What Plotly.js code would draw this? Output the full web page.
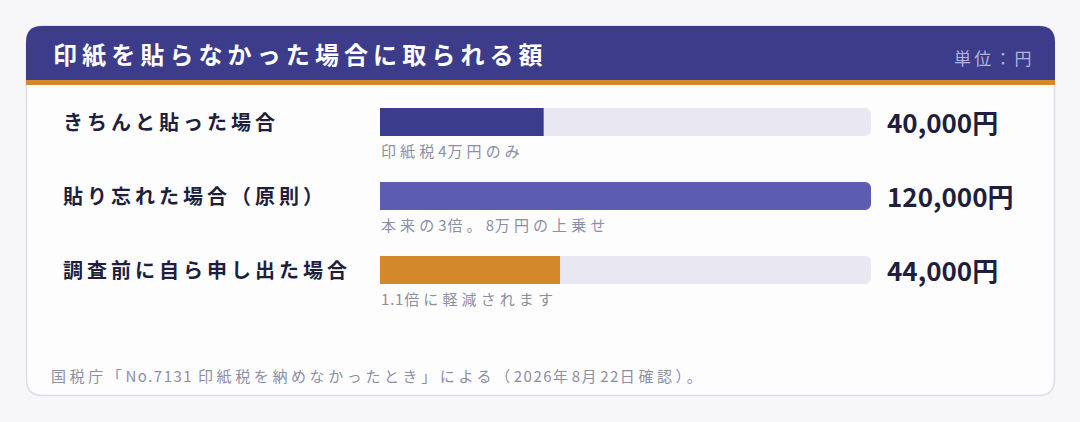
<!DOCTYPE html>
<html>
<head>
<meta charset="utf-8">
<script src="https://cdn.plot.ly/plotly-3.0.1.min.js"></script>
<style>
html,body{margin:0;padding:0;background:#f7f7fa;}
#chart{width:1080px;height:422px;}
</style>
</head>
<body>
<div id="chart"></div>
<script>
// ---- data ----
const categories = ["きちんと貼った場合", "貼り忘れた場合（原則）", "調査前に自ら申し出た場合"];
const amounts = [40000, 120000, 44000];
const valueLabels = ["40,000円", "120,000円", "44,000円"];
const notes = ["印紙税4万円のみ", "本来の3倍。8万円の上乗せ", "1.1倍に軽減されます"];
const barColors = ["#3c3c8c", "#5c5cb2", "#d4882c"];
const scaleMax = 120000;
const titleText = "印紙を貼らなかった場合に取られる額";
const unitText = "単位：円";
const sourceText = "国税庁「No.7131 印紙税を納めなかったとき」による（2026年8月22日確認）。";

// ---- layout helpers (pixel -> paper) ----
const W = 1080, H = 422;
const px = x => x / W;
const py = y => 1 - y / H;
const FONT = "'Noto Sans CJK JP', 'Noto Sans', sans-serif";

function roundRectPath(x0, y0, x1, y1, rTop, rBot) {
  const P = (x, y) => px(x).toFixed(5) + "," + py(y).toFixed(5);
  let d = "M " + P(x0 + rTop, y0) + " L " + P(x1 - rTop, y0);
  if (rTop) d += " Q " + P(x1, y0) + " " + P(x1, y0 + rTop);
  d += " L " + P(x1, y1 - rBot);
  if (rBot) d += " Q " + P(x1, y1) + " " + P(x1 - rBot, y1);
  d += " L " + P(x0 + rBot, y1);
  if (rBot) d += " Q " + P(x0, y1) + " " + P(x0, y1 - rBot);
  d += " L " + P(x0, y0 + rTop);
  if (rTop) d += " Q " + P(x0, y0) + " " + P(x0 + rTop, y0);
  return d + " Z";
}

// wrap ASCII and CJK runs with different letter-spacing
function spaced(text, cjk, lat) {
  return text.replace(/([\x00-\x7F]+)|([^\x00-\x7F]+)/g, (m, a, b) =>
    '<span style="letter-spacing:' + (a ? lat : cjk) + 'px">' + m + '</span>');
}

const traces = [
  {
    type: "bar", orientation: "h",
    y: categories, x: categories.map(() => scaleMax),
    marker: {color: "#e9e8f2", cornerradius: 6},
    width: 0.378, hoverinfo: "skip", showlegend: false
  },
  {
    type: "bar", orientation: "h",
    y: categories, x: amounts,
    marker: {color: barColors, cornerradius: 6},
    width: 0.378, hoverinfo: "skip", showlegend: false
  }
];

const annotations = [];
function addAnn(a) {
  a.showarrow = false; a.align = "left"; a.xanchor = "left"; a.yanchor = "middle";
  annotations.push(a);
}
addAnn({xref: "paper", yref: "paper", x: px(51), y: py(53),
  text: "<b>" + spaced(titleText, 5.1, 1) + "</b>", font: {family: FONT, size: 24, color: "#ffffff"}});
addAnn({xref: "paper", yref: "paper", x: px(952), y: py(57),
  text: spaced(unitText, 3.2, 1), font: {family: FONT, size: 17, color: "#b3b3db"}});
addAnn({xref: "paper", yref: "paper", x: px(49), y: py(375),
  text: spaced(sourceText, 3.6, 1.5), font: {family: FONT, size: 15, color: "#8d8da3"}});

categories.forEach((c, i) => {
  addAnn({xref: "paper", yref: "y", x: px(61), y: c, yshift: 1,
    text: "<b>" + spaced(c, 4, 1) + "</b>", font: {family: FONT, size: 20, color: "#1f1f3d"}});
  addAnn({xref: "paper", yref: "y", x: px(885), y: c, yshift: 1,
    text: "<b>" + valueLabels[i] + "</b>", font: {family: FONT, size: 26, color: "#1f1f3d"}});
  addAnn({xref: "paper", yref: "y", x: px(379), y: c, yshift: -28,
    text: spaced(notes[i], 4.1, 0.8), font: {family: FONT, size: 15, color: "#8d8da3"}});
});

const shapes = [
  {type: "path", xref: "paper", yref: "paper", layer: "below",
   path: roundRectPath(26.5, 26, 1054.5, 395.5, 16, 16),
   fillcolor: "#fdfdfd", line: {color: "#dcdcec", width: 1.5}},
  {type: "path", xref: "paper", yref: "paper", layer: "below",
   path: roundRectPath(26, 26, 1055, 80, 16, 0),
   fillcolor: "#3c3c8b", line: {width: 0}},
  {type: "rect", xref: "paper", yref: "paper", layer: "below",
   x0: px(26), x1: px(1055), y0: py(85), y1: py(80),
   fillcolor: "#d4882c", line: {width: 0}}
];

const layout = {
  width: W, height: H,
  margin: {l: 0, r: 0, t: 0, b: 0},
  paper_bgcolor: "#f7f7fa", plot_bgcolor: "rgba(0,0,0,0)",
  barmode: "overlay",
  showlegend: false,
  xaxis: {domain: [px(380), px(871)], range: [0, scaleMax], visible: false, fixedrange: true},
  yaxis: {domain: [py(307), py(85)], type: "category", categoryorder: "array", categoryarray: categories,
          range: [2.5, -0.5], visible: false, fixedrange: true},
  shapes: shapes,
  annotations: annotations
};

Plotly.newPlot("chart", traces, layout, {staticPlot: true, displayModeBar: false});
</script>
</body>
</html>
